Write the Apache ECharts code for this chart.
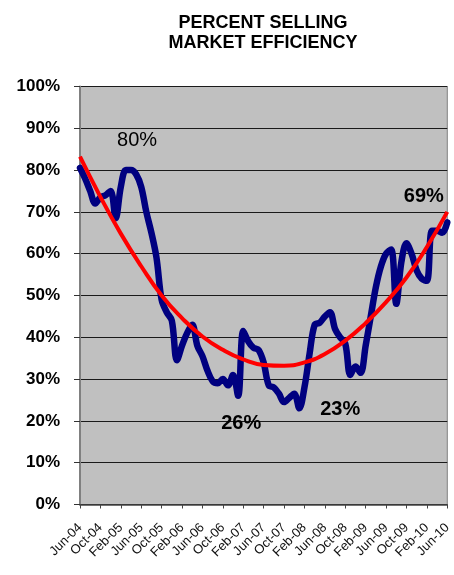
<!DOCTYPE html>
<html>
<head>
<meta charset="utf-8">
<script src="https://cdn.jsdelivr.net/npm/echarts@6/dist/echarts.min.js"></script>
<style>html,body{margin:0;padding:0;background:#fff}#c{width:454px;height:575px}</style>
</head>
<body>
<div id="c"></div>
<script>
var categories = ["Jun-04","Jul-04","Aug-04","Sep-04","Oct-04","Nov-04","Dec-04","Jan-05","Feb-05","Mar-05","Apr-05","May-05",
"Jun-05","Jul-05","Aug-05","Sep-05","Oct-05","Nov-05","Dec-05","Jan-06","Feb-06","Mar-06","Apr-06","May-06",
"Jun-06","Jul-06","Aug-06","Sep-06","Oct-06","Nov-06","Dec-06","Jan-07","Feb-07","Mar-07","Apr-07","May-07",
"Jun-07","Jul-07","Aug-07","Sep-07","Oct-07","Nov-07","Dec-07","Jan-08","Feb-08","Mar-08","Apr-08","May-08",
"Jun-08","Jul-08","Aug-08","Sep-08","Oct-08","Nov-08","Dec-08","Jan-09","Feb-09","Mar-09","Apr-09","May-09",
"Jun-09","Jul-09","Aug-09","Sep-09","Oct-09","Nov-09","Dec-09","Jan-10","Feb-10","Mar-10","Apr-10","May-10","Jun-10"];

var efficiency = [80.5,78,75,72,73.5,74,75,68.5,76,80,80,79,
76,70,65,59,49,46,44,34.5,38,41,43,38,
35.5,32,29.5,29,30,28.5,31,26,41.5,39,37.5,37,
34,28.5,28,26.5,24.5,25.5,26.5,23,28,36,43,43.5,
45,46,42,40,38.5,31,33,31.5,38,45,52,57,
60,61,48,58,62.5,60,56,54,53.5,65.5,65.5,65,67.5];

// trend line read every 4 months: [category index, value]
var trendIdx = [0,4,8,12,16,20,24,28,32,36,40,44,48,52,56,60,64,68,72];
var trendVal = [83.2,73.6,64.8,57,50,44.6,40.2,37,34.7,33.4,33.2,34,36,39.2,43.4,48.4,54.3,61.6,70];

var yTicks = [0,10,20,30,40,50,60,70,80,90,100];

var notes = [
  {name:"80%", idx:11, val:87, bold:false, dx:1},
  {name:"26%", idx:32, val:19.5, bold:true, dx:-2},
  {name:"23%", idx:51, val:22.8, bold:true, dx:0},
  {name:"69%", idx:67, val:73.8, bold:true, dx:2}
];

var FONT = 'Arial, "Liberation Sans", sans-serif';
var trendData = trendIdx.map(function(d,i){return [d, trendVal[i]];});

var chart = echarts.init(document.getElementById('c'), null, {renderer:'canvas'});
chart.setOption({
  animation:false,
  backgroundColor:'#ffffff',
  title:{
    text:'PERCENT SELLING\nMARKET EFFICIENCY',
    left:258, top:8, textAlign:'center',
    textStyle:{fontFamily:FONT, fontSize:18, fontWeight:'bold', color:'#000', lineHeight:20}
  },
  grid:{left:80, top:86.5, right:2, bottom:70.5, show:true, backgroundColor:'#C0C0C0', borderColor:'#808080', borderWidth:1},
  xAxis:{
    type:'category', data:categories, boundaryGap:false,
    axisLine:{lineStyle:{color:'#444', width:1.5}},
    axisTick:{show:true, interval:3, length:4, lineStyle:{color:'#444'}},
    axisLabel:{interval:3, rotate:45, margin:21, fontFamily:FONT, fontSize:13, color:'#111'},
    splitLine:{show:false}
  },
  yAxis:{
    type:'value', min:0, max:100, interval:10,
    axisLine:{show:true, lineStyle:{color:'#808080', width:2}},
    axisTick:{show:true, length:6, lineStyle:{color:'#333'}},
    axisLabel:{margin:20, fontFamily:FONT, fontSize:17, fontWeight:'bold', color:'#000',
      formatter:function(v){return yTicks.indexOf(v)>=0 ? v+'%' : '';}},
    splitLine:{show:true, lineStyle:{color:'#1a1a1a', width:1}}
  },
  series:[
    {
      type:'line', data:efficiency, smooth:0.35, symbol:'none',
      lineStyle:{color:'#000080', width:6.5, cap:'round', join:'round'},
      z:2,
      markPoint:{
        symbol:'circle', symbolSize:1, itemStyle:{color:'rgba(0,0,0,0)'},
        data:notes.map(function(n){
          return {name:n.name, coord:[n.idx, n.val],
            label:{show:true, position:'inside', offset:[n.dx,0], formatter:n.name,
              fontFamily:FONT, fontSize:20, fontWeight:n.bold?'bold':'normal', color:'#000'}};
        })
      }
    },
    {
      type:'line', data:trendData, smooth:true, symbol:'none',
      lineStyle:{color:'#FF0000', width:4}, z:3
    }
  ]
});
</script>
</body>
</html>
